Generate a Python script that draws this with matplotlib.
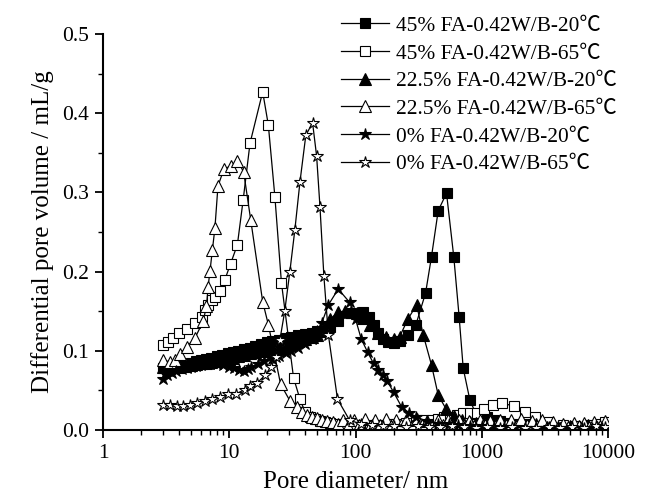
import numpy as np
import matplotlib
matplotlib.use("Agg")
import matplotlib.pyplot as plt
from matplotlib.ticker import LogLocator, MultipleLocator, FixedLocator, NullFormatter

plt.rcParams['font.family'] = ['Liberation Serif', 'Noto Sans CJK SC', 'DejaVu Serif']

# --- data ---
# 45% FA-0.42W/B-20C (filled squares)
fa45_20_x = [3.0, 3.3, 3.6, 4.0, 4.5, 5.0, 5.5, 6.0, 6.6, 7.2, 8.0, 8.8, 9.7, 10.7, 11.8, 13, 14.5, 16, 18, 20,
             22, 25, 28, 31, 35, 40, 45, 50, 56, 63, 73, 92, 115, 127, 140, 152, 165, 181, 200, 224, 260, 301,
             359, 400, 452, 526, 601, 662, 713, 805, 900, 1000, 1100, 1250, 1400, 1600, 1900, 2200, 2600,
             3000, 3500, 4000, 5000, 6000, 7000, 8000, 9000]
fa45_20_y = [0.078, 0.079, 0.080, 0.082, 0.083, 0.085, 0.087, 0.088, 0.090, 0.091, 0.093, 0.095, 0.097, 0.098,
             0.100, 0.102, 0.104, 0.106, 0.109, 0.111, 0.112, 0.114, 0.116, 0.118, 0.120, 0.121, 0.123, 0.125,
             0.125, 0.130, 0.137, 0.148, 0.149, 0.143, 0.133, 0.122, 0.115, 0.111, 0.110, 0.112, 0.120, 0.133,
             0.173, 0.219, 0.277, 0.299, 0.218, 0.143, 0.078, 0.038, 0.020, 0.018, 0.016, 0.013, 0.011, 0.009,
             0.008, 0.007, 0.006, 0.004, 0.003, 0.002, 0.003, 0.002, 0.004, 0.003, 0.005]

# 45% FA-0.42W/B-65C (open squares)
fa45_65_x = [3.0, 3.29, 3.6, 4.02, 4.6, 5.35, 6.04, 6.42, 6.83, 7.25, 7.7, 8.45, 9.24, 10.25, 11.6, 12.9, 14.6,
             18.4, 20.4, 23.0, 25.9, 32.3, 36.3, 39.8, 43.6, 47.7, 52.3, 57, 62.6, 70, 80, 95, 110, 130, 150,
             180, 210, 250, 300, 350, 400, 450, 500, 560, 631, 713, 806, 910, 1040, 1232, 1452, 1807, 2195,
             2630, 3360, 4415, 5500, 7000, 8500, 9500]
fa45_65_y = [0.107, 0.111, 0.116, 0.122, 0.128, 0.135, 0.143, 0.152, 0.158, 0.164, 0.168, 0.176, 0.190, 0.210,
             0.234, 0.291, 0.362, 0.427, 0.385, 0.294, 0.186, 0.066, 0.039, 0.023, 0.017, 0.0135, 0.011, 0.0097,
             0.0085, 0.007, 0.0065, 0.006, 0.006, 0.006, 0.006, 0.007, 0.008, 0.009, 0.010, 0.012, 0.013, 0.014,
             0.016, 0.017, 0.019, 0.021, 0.022, 0.022, 0.026, 0.032, 0.034, 0.030, 0.023, 0.017, 0.0105, 0.0063,
             0.005, 0.006, 0.008, 0.010]

# 22.5% FA-0.42W/B-20C (filled triangles)
fa225_20_x = [3.0, 3.3, 3.6, 4.0, 4.5, 5.0, 5.5, 6.0, 6.6, 7.2, 8.0, 8.8, 9.7, 10.7, 11.8, 13, 14.5, 16, 18, 20,
              22, 25, 28, 31, 35, 40, 45, 50, 56, 63, 73, 82, 92, 103, 115, 130, 150, 175, 200, 224, 260, 305,
              344, 400, 452, 520, 600, 700, 800, 900, 1000, 1150, 1300, 1500, 1700, 2000, 2300, 2700, 3100,
              3600, 4200, 5000, 6000, 7000, 8200, 9500]
fa225_20_y = [0.080, 0.078, 0.079, 0.080, 0.081, 0.082, 0.083, 0.084, 0.085, 0.086, 0.087, 0.088, 0.090, 0.091,
              0.093, 0.095, 0.097, 0.099, 0.100, 0.101, 0.103, 0.105, 0.107, 0.110, 0.112, 0.115, 0.118, 0.120,
              0.125, 0.140, 0.149, 0.150, 0.149, 0.148, 0.142, 0.132, 0.123, 0.117, 0.115, 0.118, 0.140, 0.158,
              0.120, 0.082, 0.044, 0.027, 0.018, 0.013, 0.010, 0.009, 0.008, 0.010, 0.007, 0.009, 0.006, 0.008,
              0.005, 0.007, 0.004, 0.006, 0.003, 0.005, 0.004, 0.006, 0.004, 0.005]

# 22.5% FA-0.42W/B-65C (open triangles)
fa225_65_x = [3.0, 3.39, 3.72, 4.07, 4.6, 5.35, 6.2, 6.6, 6.8, 7.04, 7.35, 7.7, 8.14, 9.1, 10.3, 11.6, 13.0,
              14.8, 18.4, 20.4, 25.5, 30.2, 34.1, 37.4, 41.1, 45.1, 49.5, 54.3, 60, 66, 73, 80, 88, 97, 107,
              118, 130, 143, 157, 173, 190, 209, 230, 253, 278, 306, 337, 370, 407, 448, 493, 542, 596, 656,
              722, 794, 873, 960, 1056, 1162, 1278, 1406, 1547, 1701, 1871, 2058, 2264, 2491, 2740, 3014, 3315,
              3647, 4011, 4413, 4854, 5339, 5873, 6461, 7107, 7817, 8599, 9459]
fa225_65_y = [0.088, 0.086, 0.088, 0.096, 0.105, 0.116, 0.137, 0.156, 0.181, 0.201, 0.227, 0.255, 0.308, 0.330,
              0.333, 0.340, 0.326, 0.265, 0.162, 0.133, 0.058, 0.037, 0.029, 0.023, 0.019, 0.017, 0.0148, 0.0126,
              0.011, 0.0095, 0.008, 0.012, 0.005, 0.013, 0.006, 0.014, 0.005, 0.013, 0.006, 0.014, 0.005, 0.012,
              0.006, 0.013, 0.005, 0.014, 0.006, 0.011, 0.005, 0.012, 0.006, 0.013, 0.005, 0.012, 0.006, 0.011,
              0.005, 0.012, 0.006, 0.011, 0.005, 0.013, 0.006, 0.012, 0.005, 0.014, 0.006, 0.011, 0.005, 0.012,
              0.004, 0.010, 0.004, 0.008, 0.004, 0.009, 0.005, 0.009, 0.004, 0.010, 0.005, 0.011]

# 0% FA-0.42W/B-20C (filled stars)
fa0_20_x = [3.0, 3.2, 3.5, 3.8, 4.2, 4.6, 5.0, 5.5, 6.0, 7.0, 8.0, 9.0, 10, 11, 12, 13, 14, 15, 17, 19, 22, 25,
            28, 31, 35, 40, 45, 50, 54, 61, 73, 90, 100, 111, 125, 139, 151, 165, 178, 200, 232, 265, 300, 367,
            450, 550, 650, 800, 1000, 1250, 1500, 1800, 2200, 2700, 3300, 4000, 5000, 6200, 7500, 9000]
fa0_20_y = [0.065, 0.070, 0.072, 0.075, 0.077, 0.078, 0.080, 0.081, 0.082, 0.083, 0.083, 0.082, 0.080, 0.078,
            0.076, 0.075, 0.077, 0.080, 0.083, 0.087, 0.090, 0.094, 0.097, 0.100, 0.103, 0.108, 0.115, 0.125,
            0.135, 0.158, 0.178, 0.161, 0.140, 0.115, 0.098, 0.084, 0.076, 0.069, 0.062, 0.048, 0.029, 0.022,
            0.017, 0.011, 0.008, 0.007, 0.006, 0.005, 0.005, 0.004, 0.004, 0.003, 0.003, 0.003, 0.002, 0.002,
            0.002, 0.003, 0.002, 0.003]

# 0% FA-0.42W/B-65C (open stars)
fa0_65_x = [3.0, 3.39, 3.83, 4.32, 4.88, 5.52, 6.42, 7.26, 8.44, 9.82, 11.4, 13.3, 14.6, 16.5, 19.2, 21.5, 23.5,
            25.2, 27.5, 30.2, 33.1, 36.3, 40.4, 45.7, 49.2, 52.3, 56.2, 61, 72, 90, 110, 135, 165, 200, 250, 310,
            380, 470, 580, 720, 900, 1100, 1400, 1750, 2200, 2700, 3400, 4200, 5200, 6500, 8000, 9500]
fa0_65_y = [0.0316, 0.0316, 0.030, 0.030, 0.0316, 0.034, 0.036, 0.039, 0.042, 0.045, 0.046, 0.051, 0.055, 0.059,
            0.069, 0.080, 0.092, 0.114, 0.150, 0.200, 0.253, 0.313, 0.372, 0.388, 0.346, 0.282, 0.194, 0.120,
            0.039, 0.012, 0.008, 0.006, 0.005, 0.005, 0.004, 0.005, 0.004, 0.004, 0.005, 0.004, 0.003, 0.004,
            0.003, 0.004, 0.003, 0.003, 0.004, 0.003, 0.004, 0.003, 0.005, 0.004]

labels = ['45% FA-0.42W/B-20\u2103', '45% FA-0.42W/B-65\u2103',
          '22.5% FA-0.42W/B-20\u2103', '22.5% FA-0.42W/B-65\u2103',
          '0% FA-0.42W/B-20\u2103', '0% FA-0.42W/B-65\u2103']

series = [(fa45_20_x, fa45_20_y, 's', 'black', 6.5),
          (fa45_65_x, fa45_65_y, 's', 'white', 6.5),
          (fa225_20_x, fa225_20_y, '^', 'black', 8.5),
          (fa225_65_x, fa225_65_y, '^', 'white', 8.5),
          (fa0_20_x, fa0_20_y, '*', 'black', 9),
          (fa0_65_x, fa0_65_y, '*', 'white', 9)]

fig = plt.figure(figsize=(6.46, 5.01), dpi=100)
ax = fig.add_axes([103 / 646, 71 / 501, 505 / 646, 396 / 501])

for (x, y, m, fc, ms), lab in zip(series, labels):
    ax.plot(x, y, color='black', lw=0.9, marker=m, markersize=ms,
            markerfacecolor=fc, markeredgecolor='black', markeredgewidth=0.8, label=lab)

ax.set_xscale('log')
ax.set_xlim(1, 10000)
ax.set_ylim(0, 0.5)
ax.xaxis.set_major_locator(FixedLocator([1, 10, 100, 1000, 10000]))
ax.xaxis.set_minor_locator(LogLocator(base=10, subs=np.arange(2, 10)))
ax.xaxis.set_minor_formatter(NullFormatter())
ax.set_xticklabels(['1', '10', '100', '1000', '10000'])
ax.yaxis.set_major_locator(MultipleLocator(0.1))
ax.yaxis.set_minor_locator(MultipleLocator(0.05))
ax.yaxis.set_major_formatter(plt.FuncFormatter(lambda v, p: f'{v:.1f}'))

for side in ['top', 'right']:
    ax.spines[side].set_visible(False)
for side in ['left', 'bottom']:
    ax.spines[side].set_linewidth(1.5)
ax.tick_params(which='major', direction='out', length=6, width=1.3, labelsize=15.5, pad=4)
ax.tick_params(which='minor', direction='out', length=3.5, width=1.0)

ax.set_xlabel('Pore diameter/ nm', fontsize=18, labelpad=6)
ax.set_ylabel('Differential pore volume / mL/g', fontsize=18, labelpad=6)

ax.legend(loc='upper left', bbox_to_anchor=(326 / 646, 1 - 1 / 501), bbox_transform=fig.transFigure,
          frameon=False, fontsize=15.4, handlelength=2.25, handletextpad=0.3, labelspacing=0.36,
          borderpad=0.2)

fig.savefig('out.png', dpi=100)
